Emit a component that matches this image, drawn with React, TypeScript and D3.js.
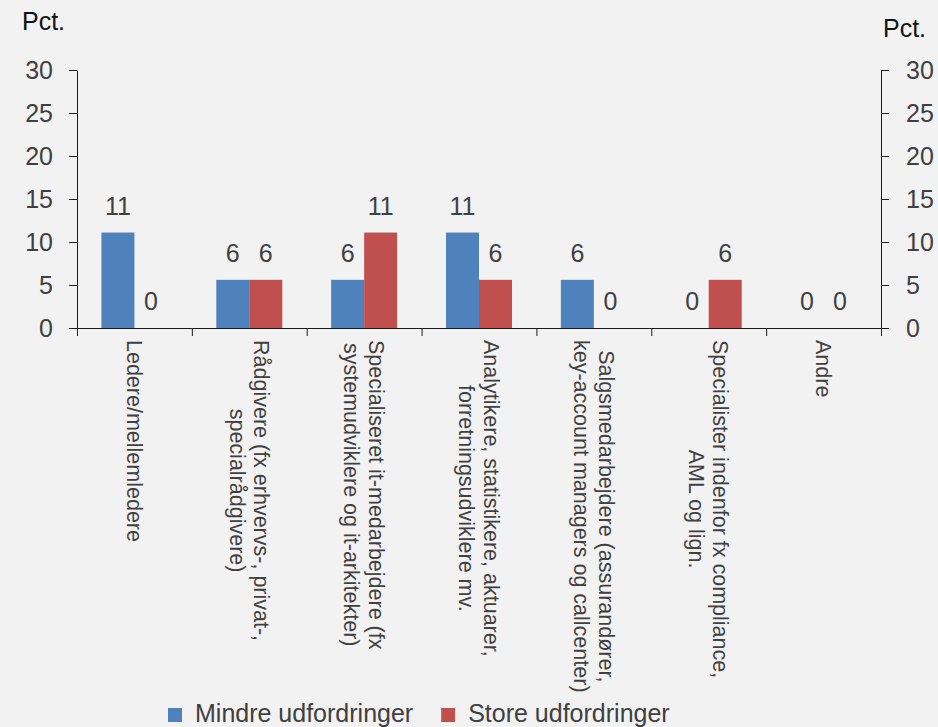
import React, { useEffect, useRef } from 'react';
import * as d3 from 'd3';

const categories = [
  ['Ledere/mellemledere'],
  ['Rådgivere (fx erhvervs-, privat-,', 'specialrådgivere)'],
  ['Specialiseret it-medarbejdere (fx', 'systemudviklere og it-arkitekter)'],
  ['Analytikere, statistikere, aktuarer,', 'forretningsudviklere mv.'],
  ['Salgsmedarbejdere (assurandører,', 'key-account managers og callcenter)'],
  ['Specialister indenfor fx compliance,', 'AML og lign.'],
  ['Andre'],
];
const seriesNames = ['Mindre udfordringer', 'Store udfordringer'];
const seriesColors = ['#4f81bd', '#c0504d'];
const mindre = [11.1, 5.6, 5.6, 11.1, 5.6, 0, 0];
const store = [0, 5.6, 11.1, 5.6, 0, 5.6, 0];
const yTicks = [0, 5, 10, 15, 20, 25, 30];

const W = 938;
const H = 727;
const FONT = 'Arial, "Liberation Sans", sans-serif';
const TEXT = '#404040';

export default function App() {
  const ref = useRef<SVGSVGElement>(null);

  useEffect(() => {
    const svg = d3.select(ref.current);
    svg.selectAll('*').remove();

    // plot area
    const left = 77, right = 881, top = 70, bottom = 328;

    svg.append('rect').attr('width', W).attr('height', H).attr('fill', '#f2f2f2');

    const y = d3.scaleLinear().domain([0, 30]).range([bottom, top]);
    const keys = categories.map((_, i) => String(i));
    const x0 = d3.scaleBand().domain(keys).range([left, right]);
    const x1 = d3.scaleBand().domain(['0', '1'])
      .range([0, x0.bandwidth()]).paddingInner(0).paddingOuter(0.74);

    const series = [mindre, store];

    // bars + value labels
    series.forEach((vals, s) => {
      svg.append('g').selectAll('rect')
        .data(vals)
        .join('rect')
        .attr('x', (_, i) => x0(String(i))! + x1(String(s))!)
        .attr('y', d => y(d))
        .attr('width', x1.bandwidth())
        .attr('height', d => bottom - y(d))
        .attr('fill', seriesColors[s]);

      svg.append('g').selectAll('text')
        .data(vals)
        .join('text')
        .attr('x', (_, i) => x0(String(i))! + x1(String(s))! + x1.bandwidth() / 2)
        .attr('y', d => y(d) - 18)
        .attr('text-anchor', 'middle')
        .attr('font-family', FONT)
        .attr('font-size', 25)
        .attr('fill', TEXT)
        .text(d => d3.format('.0f')(d));
    });

    const styleAxis = (g: any) => {
      g.selectAll('path,line').attr('stroke', '#1a1a1a');
      g.selectAll('text').attr('font-family', FONT).attr('font-size', 25).attr('fill', TEXT);
    };

    // left axis
    svg.append('g')
      .attr('transform', `translate(${left},0)`)
      .call(d3.axisLeft(y).tickValues(yTicks).tickSize(8).tickSizeOuter(0).tickPadding(16))
      .call(styleAxis);

    // right axis
    svg.append('g')
      .attr('transform', `translate(${right},0)`)
      .call(d3.axisRight(y).tickValues(yTicks).tickSize(8).tickSizeOuter(0).tickPadding(17))
      .call(styleAxis);

    // bottom axis (ticks between categories)
    const xb = d3.scaleLinear().domain([0, categories.length]).range([left, right]);
    svg.append('g')
      .attr('transform', `translate(0,${bottom})`)
      .call(d3.axisBottom(xb).tickValues(d3.range(categories.length + 1)).tickFormat(() => '').tickSize(8).tickSizeOuter(0))
      .call(styleAxis);

    // category labels, rotated
    const labelTop = 340;
    const lh = 24.5;
    categories.forEach((lines, i) => {
      const cx = x0(String(i))! + x0.bandwidth() / 2;
      const g = svg.append('g').attr('transform', `translate(${cx},${labelTop}) rotate(90)`);
      const texts = lines.map((ln, j) => g.append('text')
        .attr('y', (j - (lines.length - 1) / 2) * lh)
        .attr('dy', '0.35em')
        .attr('font-family', FONT)
        .attr('font-size', 21.5)
        .attr('fill', TEXT)
        .text(ln));
      const widths = texts.map(t => (t.node() as SVGTextElement).getComputedTextLength());
      const maxW = d3.max(widths) || 0;
      texts.forEach((t, j) => t.attr('x', (maxW - widths[j]) / 2));
    });

    // unit labels
    svg.append('text').attr('x', 22).attr('y', 30)
      .attr('font-family', FONT).attr('font-size', 25).attr('fill', '#111').text('Pct.');
    svg.append('text').attr('x', 883).attr('y', 37)
      .attr('font-family', FONT).attr('font-size', 25).attr('fill', '#111').text('Pct.');

    // legend
    let lx = 168;
    seriesNames.forEach((name, s) => {
      svg.append('rect').attr('x', lx).attr('y', 708).attr('width', 14).attr('height', 14)
        .attr('fill', seriesColors[s]);
      const t = svg.append('text').attr('x', lx + 27).attr('y', 722)
        .attr('font-family', FONT).attr('font-size', 25).attr('fill', TEXT).text(name);
      lx += 27 + (t.node() as SVGTextElement).getComputedTextLength() + 28;
    });
  }, []);

  return (
    <svg ref={ref} width={W} height={H}
      style={{ position: 'absolute', left: 0, top: 0, display: 'block' }} />
  );
}
